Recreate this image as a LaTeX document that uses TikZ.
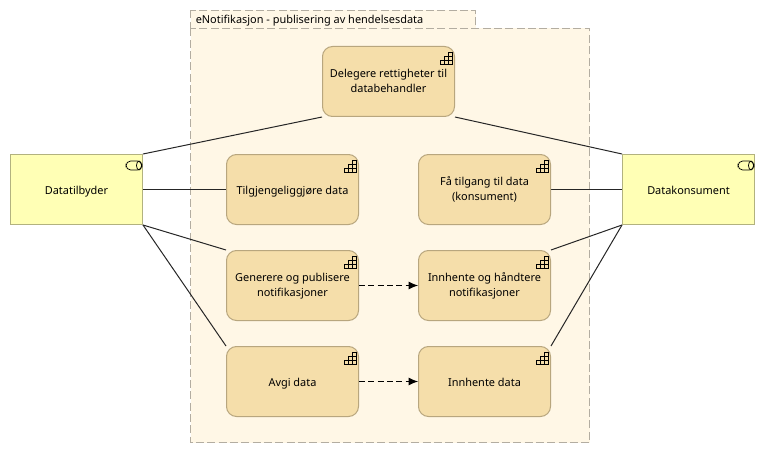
\documentclass[tikz,border=0pt]{standalone}
\usepackage{fontspec}
\setmainfont{Noto Sans}
\usetikzlibrary{arrows.meta}
\pgfdeclarelayer{grouplayer}
\pgfdeclarelayer{linelayer}
\pgfsetlayers{grouplayer,linelayer,main}
\definecolor{actorfill}{HTML}{FFFFB5}
\definecolor{actorline}{HTML}{B2B27F}
\definecolor{funcfill}{HTML}{F5DEAA}
\definecolor{funcline}{HTML}{B8A67E}
\definecolor{groupfill}{HTML}{FFF7E6}
\definecolor{groupline}{HTML}{B3ADA1}
\newcommand{\lowline}[1]{\raisebox{-4.2pt}[0pt][0pt]{#1}}
\tikzset{
    boxtext/.style={minimum width=99pt, minimum height=52.5pt, align=center, inner sep=0pt, execute at begin node=\rule{0pt}{10.5pt}, execute at end node=\rule[-3pt]{0pt}{3pt}},
    actor/.style={boxtext, draw=actorline, fill=actorfill, line width=0.75pt},
    func/.style={boxtext, draw=funcline, fill=funcfill, line width=0.75pt, rounded corners=7.5pt},
    grouped/.style={draw=groupline, fill=groupfill, line width=0.75pt, dash pattern=on 6pt off 2.5pt},
    assoc/.style={draw=black!85, line width=0.75pt},
    flowline/.style={draw=black, line width=0.75pt, dash pattern=on 4.5pt off 2.5pt, -{Latex[length=7pt,width=6pt]}},
    stairicon/.pic={
        \draw[line width=0.55pt] (0,0) rectangle (-4,4);
        \draw[line width=0.55pt] (0,4) rectangle (-8,8) (-4,4) -- (-4,8);
        \draw[line width=0.55pt] (0,8) rectangle (-12,12) (-4,8) -- (-4,12) (-8,8) -- (-8,12);
    },
    roleicon/.pic={
        \draw[line width=0.55pt, rounded corners=3.5pt] (0,0) rectangle (16,9);
        \draw[line width=0.55pt] (13,4.5) ellipse (2.5 and 4.5);
    },
}
\begin{document}
\begin{tikzpicture}[x=0.75pt, y=-0.75pt, font=\fontsize{8.2pt}{11.25pt}\selectfont]
\useasboundingbox (-0.5,-0.5) rectangle (764.5,452.5);

\begin{pgfonlayer}{grouplayer}
\draw[grouped] (190,10) rectangle (475,28);
\draw[grouped] (190,28) rectangle (589,442);
\end{pgfonlayer}
\node[anchor=west, inner sep=0pt] (grouptitle) at (195,20) {eNotifikasjon - publisering av hendelsesdata};

\node[actor] (provider) at (76,189) {Datatilbyder};
\node[actor] (consumer) at (688,189) {Datakonsument};

\node[func] (delegate) at (388,81) {\lowline{Delegere rettigheter til}\\\lowline{databehandler}};
\node[func] (publish) at (292,189) {Tilgjengeliggjøre data};
\node[func] (access) at (484,189) {\lowline{Få tilgang til data}\\\lowline{(konsument)}};
\node[func] (generate) at (292,285) {\lowline{Generere og publisere}\\\lowline{notifikasjoner}};
\node[func] (fetchnote) at (484,285) {\lowline{Innhente og håndtere}\\\lowline{notifikasjoner}};
\node[func] (submit) at (292,381) {Avgi data};
\node[func] (fetchdata) at (484,381) {Innhente data};

\foreach \n in {delegate,publish,access,generate,fetchnote,submit,fetchdata}
    \pic at ([xshift=-2.25pt,yshift=-4.5pt]\n.north east) {stairicon};
\foreach \n in {provider,consumer}
    \pic at ([xshift=-12.75pt,yshift=-5.25pt]\n.north east) {roleicon};

\begin{pgfonlayer}{linelayer}
\draw[assoc] (provider.north east) -- (delegate.south west);
\draw[assoc] (consumer.north west) -- (delegate.south east);
\draw[assoc] (provider.east) -- (publish.west);
\draw[assoc] (consumer.west) -- (access.east);
\draw[assoc] (provider.south east) -- (generate.north west);
\draw[assoc] (provider.south east) -- (submit.north west);
\draw[assoc] (consumer.south west) -- (fetchnote.north east);
\draw[assoc] (consumer.south west) -- (fetchdata.north east);
\end{pgfonlayer}
\draw[flowline] (generate) -- (fetchnote);
\draw[flowline] (submit) -- (fetchdata);
\end{tikzpicture}
\end{document}
